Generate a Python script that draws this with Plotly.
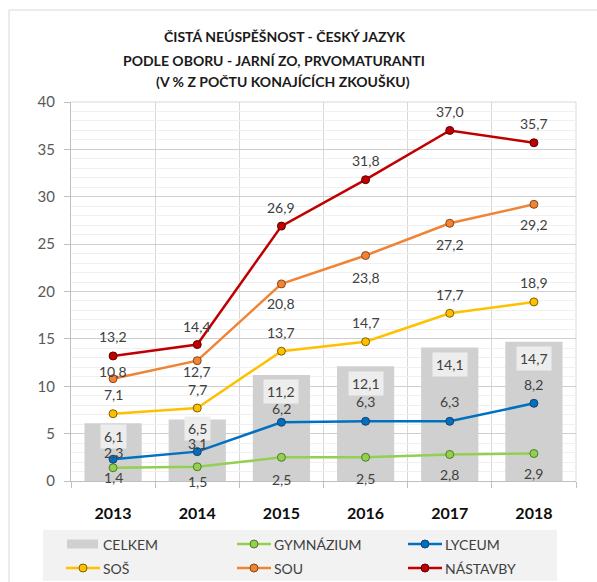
import plotly.graph_objects as go

# --- data ---------------------------------------------------------------
years = ["2013", "2014", "2015", "2016", "2017", "2018"]
celkem = [6.1, 6.5, 11.2, 12.1, 14.1, 14.7]
gymnazium = [1.4, 1.5, 2.5, 2.5, 2.8, 2.9]
lyceum = [2.3, 3.1, 6.2, 6.3, 6.3, 8.2]
sos = [7.1, 7.7, 13.7, 14.7, 17.7, 18.9]
sou = [10.8, 12.7, 20.8, 23.8, 27.2, 29.2]
nastavby = [13.2, 14.4, 26.9, 31.8, 37.0, 35.7]

title_lines = [
    "ČISTÁ NEÚSPĚŠNOST - ČESKÝ JAZYK",
    "PODLE OBORU - JARNÍ ZO, PRVOMATURANTI",
    "(V % Z POČTU KONAJÍCÍCH ZKOUŠKU)",
]

# --- styling ------------------------------------------------------------
FONT = "Lato"
TEXT = "#404040"
BAR_COLOR = "#d0d0d0"

# plot area in pixels (for placing decorations in paper coordinates)
W, H = 597, 582
L, R, T, B = 71, 21, 102, 101
PW, PH = W - L - R, H - T - B


def px_x(px):
    return (px - L) / PW


def px_y(py):
    return (H - B - py) / PH


def fmt(v):
    return f"{v:.1f}".replace(".", ",")


# category positions on a numeric axis (one slot per year)
xpos = list(range(len(years)))
boundaries = [i - 0.5 for i in range(len(years) + 1)]

line_series = [
    ("GYMNÁZIUM", gymnazium, "#92d050", "#4f7a28", [-10, -15, -22, -21, -20, -20]),
    ("LYCEUM", lyceum, "#0070c0", "#1f3f66", [7, 8, 14, 20, 20, 19]),
    ("SOŠ", sos, "#ffc000", "#7f6000", [19, 19, 19, 19, 19, 19]),
    ("SOU", sou, "#f08436", "#8a4515", [7, -11, -20, -22, -21, -20]),
    ("NÁSTAVBY", nastavby, "#c00000", "#5a0000", [19, 18, 19, 19, 19, 19]),
]
celkem_shift = [-13, -9, -17, -17, -17, -17]

fig = go.Figure()

fig.add_trace(go.Bar(
    x=xpos, y=celkem, name="CELKEM",
    marker=dict(color=BAR_COLOR, line=dict(width=0)),
    width=0.68,
))

for name, vals, color, edge, _ in line_series:
    fig.add_trace(go.Scatter(
        x=xpos, y=vals, name=name, mode="lines+markers",
        line=dict(color=color, width=2.5),
        marker=dict(size=8, color=color, line=dict(color=edge, width=1)),
    ))

annotations = []
shapes = []

# bar value labels, just inside the top of each bar
for xp, v, s in zip(xpos, celkem, celkem_shift):
    annotations.append(dict(
        x=xp, y=v, text=fmt(v), showarrow=False, yshift=s,
        font=dict(family=FONT, size=14, color=TEXT),
        bgcolor="#ededed", borderpad=3,
    ))

# line value labels
for name, vals, color, edge, shifts in line_series:
    for xp, v, s in zip(xpos, vals, shifts):
        annotations.append(dict(
            x=xp, y=v, text=fmt(v), showarrow=False, yshift=s,
            font=dict(family=FONT, size=14, color=TEXT),
        ))

# three-line title
for line, cx, cy in zip(title_lines, [284, 274, 283], [37, 60, 82]):
    annotations.append(dict(
        xref="paper", yref="paper", x=px_x(cx), y=px_y(cy),
        text=f"<b>{line}</b>", showarrow=False,
        xanchor="center", yanchor="middle",
        font=dict(family=FONT, size=14, color="#1a1a1a"),
    ))

# outer chart border and plot-area edges
shapes += [
    dict(type="rect", xref="paper", yref="paper",
         x0=px_x(9), x1=px_x(600), y0=px_y(590), y1=px_y(10),
         line=dict(color="#d9d9d9", width=1), fillcolor="rgba(0,0,0,0)",
         layer="below"),
    dict(type="line", xref="paper", yref="paper", x0=1, x1=1, y0=0, y1=1,
         line=dict(color="#d9d9d9", width=1), layer="below"),
    dict(type="line", xref="paper", yref="paper", x0=0, x1=1, y0=1, y1=1,
         line=dict(color="#d9d9d9", width=1), layer="below"),
]

# legend panel: 3 columns x 2 rows
shapes.append(dict(type="rect", xref="paper", yref="paper",
                   x0=px_x(43), x1=px_x(557), y0=px_y(581), y1=px_y(530),
                   line=dict(width=0), fillcolor="#f2f2f2", layer="above"))
col_x = [66, 237, 408]
row_y = [544, 568]
entries = [("CELKEM", None, None)] + [(n, c, e) for n, _, c, e, _ in line_series]
order = ["CELKEM", "GYMNÁZIUM", "LYCEUM", "SOŠ", "SOU", "NÁSTAVBY"]
lookup = {n: (c, e) for n, c, e in entries}
for i, name in enumerate(order):
    x0 = col_x[i % 3]
    yc = row_y[i // 3]
    color, edge = lookup[name]
    if color is None:
        shapes.append(dict(type="rect", xref="paper", yref="paper",
                           x0=px_x(x0 + 1), x1=px_x(x0 + 32),
                           y0=px_y(yc + 4.5), y1=px_y(yc - 4.5),
                           line=dict(width=0), fillcolor=BAR_COLOR,
                           layer="above"))
    else:
        shapes.append(dict(type="line", xref="paper", yref="paper",
                           x0=px_x(x0), x1=px_x(x0 + 34),
                           y0=px_y(yc), y1=px_y(yc),
                           line=dict(color=color, width=2.5), layer="above"))
        shapes.append(dict(type="circle", xref="paper", yref="paper",
                           xsizemode="pixel", ysizemode="pixel",
                           xanchor=px_x(x0 + 17), yanchor=px_y(yc),
                           x0=-4, x1=4, y0=-4, y1=4,
                           line=dict(color=edge, width=1), fillcolor=color,
                           layer="above"))
    annotations.append(dict(
        xref="paper", yref="paper", x=px_x(x0 + 35), y=px_y(yc),
        text=name, showarrow=False, xanchor="left", yanchor="middle",
        font=dict(family=FONT, size=14, color=TEXT),
    ))

fig.update_layout(
    width=W, height=H,
    margin=dict(l=L, r=R, t=T, b=B, autoexpand=False),
    paper_bgcolor="white", plot_bgcolor="white",
    font=dict(family=FONT, color=TEXT),
    showlegend=False,
    annotations=annotations,
    shapes=shapes,
)

fig.update_xaxes(
    range=[boundaries[0], boundaries[-1]],
    tickmode="array", tickvals=xpos, ticktext=years,
    showgrid=False, ticks="",
    showline=True, linecolor="#bfbfbf", linewidth=1,
    tickfont=dict(family=FONT, size=16, color="#0d0d0d", weight="bold"),
    ticklabelstandoff=18,
    minor=dict(tickmode="array", tickvals=boundaries, showgrid=True,
               gridcolor="#d9d9d9", gridwidth=1,
               ticks="outside", ticklen=6, tickcolor="#bfbfbf"),
    zeroline=False,
)

fig.update_yaxes(
    range=[0, 40], dtick=5, tick0=0,
    showgrid=True, gridcolor="#cfcfcf", gridwidth=1,
    showline=True, linecolor="#bfbfbf", linewidth=1,
    ticks="outside", ticklen=6, tickcolor="#bfbfbf",
    tickfont=dict(family=FONT, size=15, color="#595959"),
    ticklabelstandoff=6,
    minor=dict(dtick=1, showgrid=True, gridcolor="#f0f0f0", gridwidth=1),
    zeroline=False,
)

fig.write_html("out.html")
